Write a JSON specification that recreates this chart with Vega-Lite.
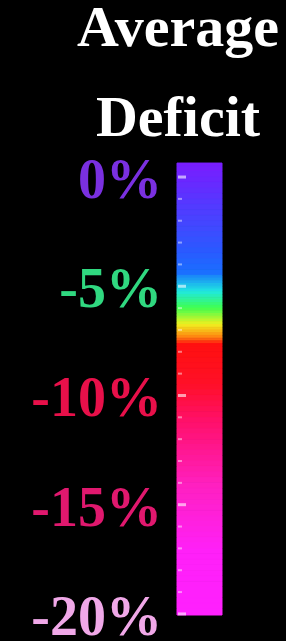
{
  "$schema": "https://vega.github.io/schema/vega-lite/v6.json",
  "width": 286,
  "height": 481,
  "autosize": "none",
  "padding": {"left": 0, "right": 0, "top": 160, "bottom": 0},
  "background": "black",
  "config": {"view": {"stroke": null}},
  "title": {
    "text": ["Average", "Deficit"],
    "color": "white",
    "font": "Liberation Serif",
    "fontSize": 58,
    "fontWeight": "bold",
    "lineHeight": 90,
    "anchor": "middle",
    "frame": "group",
    "offset": 5,
    "dx": 35
  },
  "datasets": {
    "bar": [
      {"hi": 0.64, "lo": 0.5}, {"hi": 0.5, "lo": 0.25}, {"hi": 0.25, "lo": 0}, {"hi": 0, "lo": -0.25},
      {"hi": -0.25, "lo": -0.5}, {"hi": -0.5, "lo": -0.75}, {"hi": -0.75, "lo": -1}, {"hi": -1, "lo": -1.25},
      {"hi": -1.25, "lo": -1.5}, {"hi": -1.5, "lo": -1.75}, {"hi": -1.75, "lo": -2}, {"hi": -2, "lo": -2.25},
      {"hi": -2.25, "lo": -2.5}, {"hi": -2.5, "lo": -2.75}, {"hi": -2.75, "lo": -3}, {"hi": -3, "lo": -3.25},
      {"hi": -3.25, "lo": -3.5}, {"hi": -3.5, "lo": -3.75}, {"hi": -3.75, "lo": -4}, {"hi": -4, "lo": -4.25},
      {"hi": -4.25, "lo": -4.5}, {"hi": -4.5, "lo": -4.625}, {"hi": -4.625, "lo": -4.75}, {"hi": -4.75, "lo": -4.875},
      {"hi": -4.875, "lo": -5}, {"hi": -5, "lo": -5.125}, {"hi": -5.125, "lo": -5.25}, {"hi": -5.25, "lo": -5.375},
      {"hi": -5.375, "lo": -5.5}, {"hi": -5.5, "lo": -5.625}, {"hi": -5.625, "lo": -5.75}, {"hi": -5.75, "lo": -5.875},
      {"hi": -5.875, "lo": -6}, {"hi": -6, "lo": -6.125}, {"hi": -6.125, "lo": -6.25}, {"hi": -6.25, "lo": -6.375},
      {"hi": -6.375, "lo": -6.5}, {"hi": -6.5, "lo": -6.625}, {"hi": -6.625, "lo": -6.75}, {"hi": -6.75, "lo": -6.875},
      {"hi": -6.875, "lo": -7}, {"hi": -7, "lo": -7.125}, {"hi": -7.125, "lo": -7.25}, {"hi": -7.25, "lo": -7.375},
      {"hi": -7.375, "lo": -7.5}, {"hi": -7.5, "lo": -7.625}, {"hi": -7.625, "lo": -7.75}, {"hi": -7.75, "lo": -7.875},
      {"hi": -7.875, "lo": -8}, {"hi": -8, "lo": -8.25}, {"hi": -8.25, "lo": -8.5}, {"hi": -8.5, "lo": -8.75},
      {"hi": -8.75, "lo": -9}, {"hi": -9, "lo": -9.25}, {"hi": -9.25, "lo": -9.5}, {"hi": -9.5, "lo": -9.75},
      {"hi": -9.75, "lo": -10}, {"hi": -10, "lo": -10.25}, {"hi": -10.25, "lo": -10.5}, {"hi": -10.5, "lo": -10.75},
      {"hi": -10.75, "lo": -11}, {"hi": -11, "lo": -11.25}, {"hi": -11.25, "lo": -11.5}, {"hi": -11.5, "lo": -11.75},
      {"hi": -11.75, "lo": -12}, {"hi": -12, "lo": -12.25}, {"hi": -12.25, "lo": -12.5}, {"hi": -12.5, "lo": -12.75},
      {"hi": -12.75, "lo": -13}, {"hi": -13, "lo": -13.25}, {"hi": -13.25, "lo": -13.5}, {"hi": -13.5, "lo": -13.75},
      {"hi": -13.75, "lo": -14}, {"hi": -14, "lo": -14.25}, {"hi": -14.25, "lo": -14.5}, {"hi": -14.5, "lo": -14.75},
      {"hi": -14.75, "lo": -15}, {"hi": -15, "lo": -15.25}, {"hi": -15.25, "lo": -15.5}, {"hi": -15.5, "lo": -15.75},
      {"hi": -15.75, "lo": -16}, {"hi": -16, "lo": -16.25}, {"hi": -16.25, "lo": -16.5}, {"hi": -16.5, "lo": -16.75},
      {"hi": -16.75, "lo": -17}, {"hi": -17, "lo": -17.25}, {"hi": -17.25, "lo": -17.5}, {"hi": -17.5, "lo": -17.75},
      {"hi": -17.75, "lo": -18}, {"hi": -18, "lo": -18.25}, {"hi": -18.25, "lo": -18.5}, {"hi": -18.5, "lo": -18.75},
      {"hi": -18.75, "lo": -19}, {"hi": -19, "lo": -19.25}, {"hi": -19.25, "lo": -19.5}, {"hi": -19.5, "lo": -19.75},
      {"hi": -19.75, "lo": -20.05}
    ],
    "ticks": [
      {"t": 0}, {"t": -1}, {"t": -2}, {"t": -3}, {"t": -4}, {"t": -5}, {"t": -6}, {"t": -7},
      {"t": -8}, {"t": -9}, {"t": -10}, {"t": -11}, {"t": -12}, {"t": -13}, {"t": -14}, {"t": -15},
      {"t": -16}, {"t": -17}, {"t": -18}, {"t": -19}, {"t": -20}
    ],
    "labels": [
      {"v": 0, "label": "0%"},
      {"v": -5, "label": "-5%"},
      {"v": -10, "label": "-10%"},
      {"v": -15, "label": "-15%"},
      {"v": -20, "label": "-20%"}
    ]
  },
  "layer": [
    {
      "data": {"name": "bar"},
      "mark": {"type": "rect", "strokeWidth": 1},
      "encoding": {
        "x": {"datum": 177, "type": "quantitative", "scale": {"domain": [0, 286], "nice": false, "zero": false}, "axis": null},
        "x2": {"datum": 222},
        "y": {"field": "hi", "type": "quantitative", "scale": {"domain": [-21.24, 0.78], "nice": false, "zero": false}, "axis": null},
        "y2": {"field": "lo"},
        "fill": {
          "field": "hi", "type": "quantitative", "legend": null,
          "scale": {
            "domain": [-20.2, -17, -14, -11, -9.4, -7.6, -7.3, -6.7, -5.95, -5.2, -4.3, -3.3, 0.75],
            "range": ["#ff20ff", "#ff20f8", "#ff20c0", "#ff1068", "#ff1028", "#ff1010", "#ff8010", "#f0f020", "#40ff50", "#20e8e0", "#1a70ff", "#2a5aff", "#7a1cff"],
            "interpolate": "rgb"
          }
        },
        "stroke": {
          "field": "hi", "type": "quantitative", "legend": null,
          "scale": {
            "domain": [-20.2, -17, -14, -11, -9.4, -7.6, -7.3, -6.7, -5.95, -5.2, -4.3, -3.3, 0.75],
            "range": ["#ff20ff", "#ff20f8", "#ff20c0", "#ff1068", "#ff1028", "#ff1010", "#ff8010", "#f0f020", "#40ff50", "#20e8e0", "#1a70ff", "#2a5aff", "#7a1cff"],
            "interpolate": "rgb"
          }
        }
      }
    },
    {
      "data": {"name": "ticks"},
      "transform": [{"filter": "datum.t % 5 !== 0"}],
      "mark": {"type": "rule", "color": "#ffffff", "opacity": 0.45, "strokeWidth": 2},
      "encoding": {
        "x": {"datum": 178, "type": "quantitative"},
        "x2": {"datum": 182},
        "y": {"field": "t", "type": "quantitative"}
      }
    },
    {
      "data": {"name": "ticks"},
      "transform": [{"filter": "datum.t % 5 === 0"}],
      "mark": {"type": "rule", "color": "#ffffff", "opacity": 0.6, "strokeWidth": 3},
      "encoding": {
        "x": {"datum": 178, "type": "quantitative"},
        "x2": {"datum": 186},
        "y": {"field": "t", "type": "quantitative"}
      }
    },
    {
      "data": {"name": "labels"},
      "mark": {"type": "text", "align": "right", "baseline": "middle", "font": "Liberation Serif", "fontWeight": "bold", "fontSize": 56, "dy": 4},
      "encoding": {
        "x": {"datum": 162, "type": "quantitative"},
        "y": {"field": "v", "type": "quantitative"},
        "text": {"field": "label"},
        "color": {
          "field": "label", "type": "nominal", "legend": null,
          "scale": {
            "domain": ["0%", "-5%", "-10%", "-15%", "-20%"],
            "range": ["#7a30e0", "#30d880", "#e8104a", "#e0186e", "#f0a8e8"]
          }
        }
      }
    }
  ],
  "resolve": {"scale": {"color": "independent"}}
}
